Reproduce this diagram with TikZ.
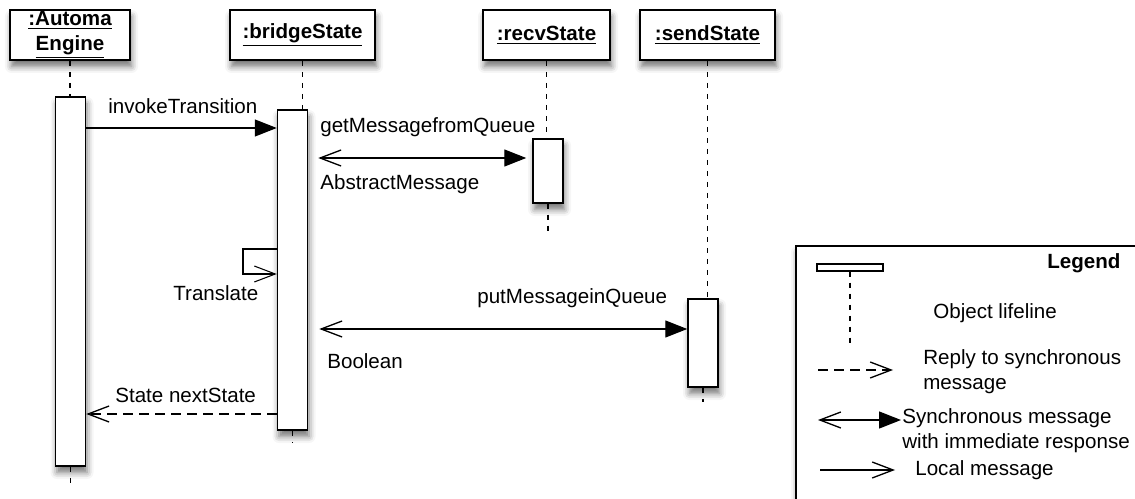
\documentclass[tikz,border=0pt]{standalone}
\usepackage{fontspec}
\setmainfont{Liberation Sans}
\usetikzlibrary{positioning,arrows.meta,shadows,shadows.blur}

\newcommand{\umlfont}{\fontsize{11.7pt}{14pt}\selectfont}

\tikzset{
	softshadow/.style={blur shadow={shadow xshift=0.3mm, shadow yshift=-1.3mm, shadow opacity=55, shadow blur radius=1.3mm}},
	object/.style={draw, line width=1.1pt, fill=white, minimum height=10mm, inner sep=0pt, align=center, font=\umlfont\bfseries, softshadow},
	activation/.style={draw, line width=0.85pt, fill=white, minimum width=6mm, inner sep=0pt, softshadow},
	lifeline/.style={line width=0.6pt, dash pattern=on 1.1mm off 1.1mm},
	msgcall/.style={line width=0.75pt, -{Triangle[length=4.4mm,width=3.4mm]}},
	msgsync/.style={line width=0.75pt, {Straight Barb[length=4.2mm,width=3.2mm]}-{Triangle[length=4.4mm,width=3.4mm]}},
	msgreply/.style={line width=0.75pt, dash pattern=on 2mm off 1.2mm, -{Straight Barb[length=4.2mm,width=3.2mm]}},
	msglocal/.style={line width=0.75pt, -{Straight Barb[length=4.2mm,width=3.2mm]}},
	msglabel/.style={inner sep=0pt, anchor=base west, font=\umlfont},
	legendframe/.style={draw, line width=1.1pt, fill=white, inner sep=0pt, softshadow},
}

\begin{document}
\begin{tikzpicture}[x=0.2mm,y=-0.2mm]
	\useasboundingbox (0,0) rectangle (1135,499);

	\node[object, minimum width=24mm] (automa) at (70,35) {\underline{:Automa}\\\underline{Engine}};
	\node[object, minimum width=29mm] (bridge) at (302.5,35) {\underline{:bridgeState}};
	\node[object, minimum width=25.4mm] (recv) at (546.5,35) {\underline{:recvState}};
	\node[object, minimum width=27mm] (send) at (707.5,35) {\underline{:sendState}};

	\node[activation, minimum height=73.8mm] (actA) at (70.5,281.5) {};
	\node[activation, minimum height=64mm] (actB) at (292.5,270) {};
	\node[activation, minimum height=12.8mm] (actR) at (548,171) {};
	\node[activation, minimum height=17.6mm] (actS) at (703,343) {};

	\coordinate (endA) at (70.5,488);
	\coordinate (endB) at (292.5,442);
	\coordinate (endR) at (548,232);
	\coordinate (endS) at (703,402);

	\draw[lifeline] (automa.south) -- (automa.south |- actA.north);
	\draw[lifeline] (bridge.south) -- (bridge.south |- actB.north);
	\draw[lifeline] (recv.south) -- (recv.south |- actR.north);
	\draw[lifeline] (send.south) -- (send.south |- actS.north);
	\draw[lifeline] (actA.south) -- (endA);
	\draw[lifeline] (actB.south) -- (endB);
	\draw[lifeline] (actR.south) -- (endR);
	\draw[lifeline] (actS.south) -- (endS);

	\coordinate (loopcorner) at (243,274);

	\draw[msgcall] (actA.east |- 0,128) -- (actB.west |- 0,128);
	\draw[msgsync, shorten <=2mm, shorten >=1.2mm] (actB.east |- 0,158) -- (actR.west |- 0,158);
	\draw[msglocal, line width=0.6pt] (actB.west |- 0,249) -| (loopcorner) -- (actB.west |- loopcorner);
	\draw[msgsync, shorten <=2.2mm] (actB.east |- 0,329) -- (actS.west |- 0,329);
	\draw[msgreply] (actB.west |- 0,414) -- (actA.east |- 0,414);

	\node[msglabel] (invokeLbl) at (108,114) {invokeTransition};
	\node[msglabel] (getLbl) at (320,133) {getMessagefromQueue};
	\node[msglabel] (abstractLbl) at (320,190) {AbstractMessage};
	\node[msglabel] (translateLbl) at (173,300) {Translate};
	\node[msglabel] (putLbl) at (477,303) {putMessageinQueue};
	\node[msglabel] (booleanLbl) at (327,368) {Boolean};
	\node[msglabel] (nextLbl) at (115,402) {State nextState};

	\node[legendframe, minimum width=72mm, minimum height=56mm, anchor=north west] (legend) at (795,245) {};
	\node[msglabel, font=\umlfont\bfseries] (legendTitle) at (1047,269) {Legend};
	\node[draw, line width=0.8pt, minimum width=13.2mm, minimum height=1.4mm, inner sep=0pt] (legObj) at (850,267.5) {};
	\coordinate (legLifeEnd) at (850,343);
	\draw[lifeline] (legObj.south) -- (legLifeEnd);
	\node[msglabel] (legLifeTxt) at (933,318) {Object lifeline};

	\coordinate (legReplyA) at (818,370);
	\coordinate (legReplyB) at (893,370);
	\draw[msgreply] (legReplyA) -- (legReplyB);
	\node[msglabel, align=left] (legReplyTxt) at (923,389) {Reply to synchronous\\message};

	\coordinate (legSyncA) at (818,420);
	\coordinate (legSyncB) at (901,420);
	\draw[msgsync] (legSyncA) -- (legSyncB);
	\node[msglabel, align=left] (legSyncTxt) at (902,448) {Synchronous message\\with immediate response};

	\coordinate (legLocalA) at (820,470);
	\coordinate (legLocalB) at (895,470);
	\draw[msglocal] (legLocalA) -- (legLocalB);
	\node[msglabel] (legLocalTxt) at (915,475) {Local message};
\end{tikzpicture}
\end{document}
